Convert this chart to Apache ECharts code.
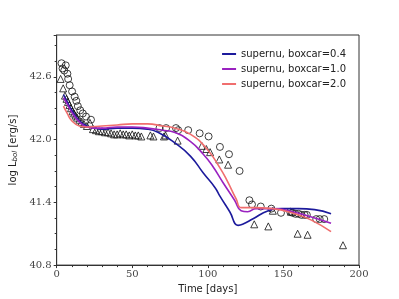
<!DOCTYPE html>
<html><head><meta charset="utf-8">
<script src="https://cdn.jsdelivr.net/npm/echarts@6/dist/echarts.min.js"></script>
<style>html,body{margin:0;padding:0;background:#fff}#c{width:399px;height:299px}</style>
</head><body><div id="c"></div>
<script>
var xTicks = [0, 50, 100, 150, 200];
var yTicks = [40.8, 41.4, 42.0, 42.6];

var seriesNames = ['supernu, boxcar=0.4', 'supernu, boxcar=1.0', 'supernu, boxcar=2.0'];

var blueDays = [4.5, 7, 10, 15, 20, 25, 30, 40, 50, 60, 67, 78, 88.6, 97, 104.8, 108, 114.5, 120, 123, 129.6, 140, 149, 160, 170.6, 181.5];
var blueVals = [42.43, 42.36, 42.28, 42.18, 42.13, 42.11, 42.10, 42.11, 42.11, 42.10, 42.07, 41.97, 41.84, 41.68, 41.54, 41.46, 41.31, 41.18, 41.19, 41.24, 41.32, 41.34, 41.34, 41.33, 41.29];

var purpleDays = [4.5, 7, 10, 15, 20, 25, 30, 40, 50, 60, 70, 77.8, 88.6, 97, 103, 110, 117.7, 122, 126.4, 131.8, 142.6, 153.4, 166.4, 181.5];
var purpleVals = [42.40, 42.34, 42.26, 42.17, 42.12, 42.11, 42.11, 42.12, 42.12, 42.11, 42.09, 42.07, 41.98, 41.86, 41.75, 41.59, 41.42, 41.32, 41.31, 41.34, 41.34, 41.32, 41.27, 41.20];

var redDays = [4.5, 7, 10, 15, 20, 30, 40, 50, 60, 70, 77.8, 88.6, 99.4, 108, 113, 118.8, 122, 129.6, 142.6, 157.7, 168.5, 181.5];
var redVals = [42.32, 42.25, 42.18, 42.13, 42.12, 42.13, 42.14, 42.15, 42.15, 42.13, 42.11, 42.05, 41.91, 41.73, 41.60, 41.43, 41.35, 41.35, 41.34, 41.29, 41.23, 41.12];

var circleDays = [3.2, 6, 3.9, 5, 7.1, 7.6, 8.6, 10.2, 11.9, 13, 14, 15.6, 17.3, 19.4, 22.7, 68, 72.4, 78.9, 80.4, 87, 94.6, 100.5, 108, 114, 121, 127.5, 129.2, 135, 142, 148.4, 154.5, 156, 158, 160, 162, 164, 165.5, 171.7, 174, 177];
var circleVals = [42.73, 42.71, 42.68, 42.66, 42.63, 42.58, 42.52, 42.46, 42.41, 42.37, 42.32, 42.28, 42.25, 42.22, 42.19, 42.11, 42.11, 42.11, 42.09, 42.09, 42.06, 42.03, 41.93, 41.86, 41.70, 41.42, 41.38, 41.36, 41.34, 41.30, 41.31, 41.30, 41.29, 41.29, 41.28, 41.28, 41.28, 41.24, 41.24, 41.24];

var triDays = [2.6, 4.3, 5.5, 6.5, 7.5, 8.5, 9.5, 10.5, 11.5, 12.5, 13.5, 15, 16.5, 18, 20, 22, 24, 26, 28, 30, 32, 34, 36, 38, 40, 42, 44, 46, 48, 50, 52, 54, 56, 62, 64, 71, 72, 80, 96, 99, 101.5, 107.6, 113.4, 130.7, 140, 143, 155, 159.4, 166, 189.4];
var triVals = [42.58, 42.49, 42.42, 42.39, 42.36, 42.33, 42.30, 42.27, 42.25, 42.23, 42.21, 42.19, 42.17, 42.15, 42.13, 42.16, 42.10, 42.09, 42.08, 42.08, 42.07, 42.07, 42.06, 42.05, 42.05, 42.06, 42.05, 42.05, 42.04, 42.05, 42.04, 42.04, 42.03, 42.04, 42.03, 42.03, 42.04, 41.99, 41.94, 41.91, 41.88, 41.81, 41.76, 41.19, 41.17, 41.32, 41.31, 41.10, 41.09, 40.99];

function zip(a, b) { return a.map(function (v, i) { return [v, b[i]]; }); }

var colors = ['#1c1a9c', '#9a22c0', '#f06e6e'];
var serif = 'DejaVu Serif';

var chart = echarts.init(document.getElementById('c'));
chart.setOption({
  animation: false,
  backgroundColor: '#fff',
  grid: { left: 50, right: 40, top: 35, bottom: 32.5, show: true, borderColor: '#333', borderWidth: 1 },
  legend: {
    right: 48, top: 44, orient: 'vertical', itemGap: 5, itemWidth: 14, itemHeight: 11,
    data: seriesNames.map(function (n) { return { name: n, icon: 'path://M0,5 L14,5 L14,7 L0,7 Z' }; }),
    textStyle: { fontFamily: 'DejaVu Sans', fontSize: 10, color: '#222' }
  },
  xAxis: {
    type: 'value', min: 0, max: 200, interval: 50,
    name: 'Time [days]', nameLocation: 'middle', nameGap: 18,
    nameTextStyle: { fontFamily: 'DejaVu Sans', fontSize: 10, color: '#222' },
    axisLine: { show: true, onZero: false, lineStyle: { color: '#333' } },
    axisTick: { show: true, length: 3, lineStyle: { color: '#333' } },
    minorTick: { show: true, splitNumber: 5, length: 2, lineStyle: { color: '#333' } },
    axisLabel: { fontFamily: serif, fontSize: 10, color: '#444', margin: 4,
      formatter: function (v) { return xTicks.indexOf(v) >= 0 ? String(v) : ''; } },
    splitLine: { show: false }
  },
  yAxis: {
    type: 'value', min: 40.8, max: 43.0, interval: 0.6,
    name: '{a|log L}{b|bol}{a| [erg/s]}', nameLocation: 'middle', nameGap: 34, nameRotate: 90,
    nameTextStyle: { rich: {
      a: { fontFamily: 'DejaVu Sans', fontSize: 10, color: '#222' },
      b: { fontFamily: 'DejaVu Sans', fontSize: 7, fontStyle: 'italic', color: '#222', verticalAlign: 'bottom', padding: [4, 0, 0, 0] }
    } },
    axisLine: { show: true, onZero: false, lineStyle: { color: '#333' } },
    axisTick: { show: true, length: 3, lineStyle: { color: '#333' } },
    minorTick: { show: true, splitNumber: 4, length: 2, lineStyle: { color: '#333' } },
    axisLabel: { fontFamily: serif, fontSize: 10, color: '#444', margin: 5,
      formatter: function (v) {
        for (var i = 0; i < yTicks.length; i++) { if (Math.abs(v - yTicks[i]) < 1e-6) return yTicks[i].toFixed(1); }
        return '';
      } },
    splitLine: { show: false }
  },
  series: [
    { name: 'circles', type: 'scatter', data: zip(circleDays, circleVals), symbol: 'circle', symbolSize: 7,
      itemStyle: { color: 'transparent', borderColor: '#111', borderWidth: 1 }, z: 3 },
    { name: 'triangles', type: 'scatter', data: zip(triDays, triVals), symbol: 'triangle', symbolSize: 7,
      itemStyle: { color: 'transparent', borderColor: '#111', borderWidth: 1 }, z: 3 },
    { name: seriesNames[0], type: 'line', data: zip(blueDays, blueVals), smooth: 0.5, showSymbol: false, symbol: 'none',
      lineStyle: { color: colors[0], width: 1.6 }, itemStyle: { color: colors[0] }, z: 4 },
    { name: seriesNames[1], type: 'line', data: zip(purpleDays, purpleVals), smooth: 0.5, showSymbol: false, symbol: 'none',
      lineStyle: { color: colors[1], width: 1.6 }, itemStyle: { color: colors[1] }, z: 5 },
    { name: seriesNames[2], type: 'line', data: zip(redDays, redVals), smooth: 0.5, showSymbol: false, symbol: 'none',
      lineStyle: { color: colors[2], width: 1.6 }, itemStyle: { color: colors[2] }, z: 6 }
  ]
});
</script></body></html>
